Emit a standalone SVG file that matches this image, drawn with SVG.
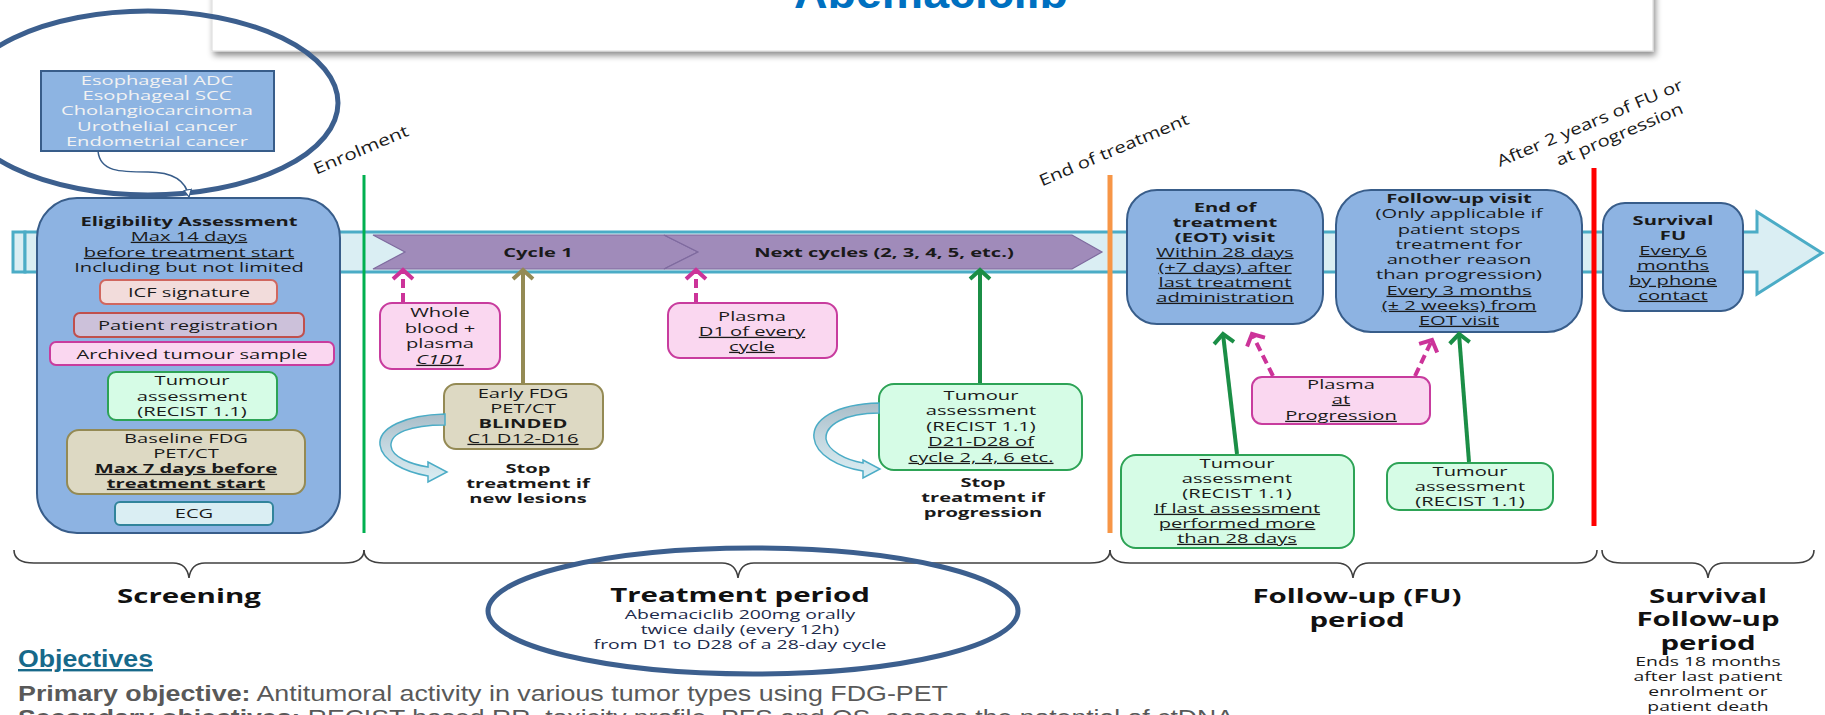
<svg xmlns="http://www.w3.org/2000/svg" width="1825" height="715" viewBox="0 0 1825 715">
<defs>
<style>
.t{font-family:"Open Sans","DejaVu Sans",sans-serif;font-size:13px;fill:#1a1a1a;text-anchor:middle}
.b{font-weight:bold}
.u{text-decoration:underline}
.i{font-style:italic}
.w{fill:#F2F2F2}
.lbl{font-size:19px;font-weight:bold;fill:#111}
.sm{font-size:12.5px}
.navy{fill:#1C2A4A}
.rot{font-family:"Open Sans","DejaVu Sans",sans-serif;font-size:16px;fill:#1a1a1a;text-anchor:middle}
.blue{fill:#8DB3E2;stroke:#385D8A;stroke-width:2}
.pink{fill:#FAD7F0;stroke:#C83C9E;stroke-width:2}
.mint{fill:#D6FCE6;stroke:#2DA356;stroke-width:2}
.tan{fill:#DDD9C3;stroke:#948A54;stroke-width:2}
.brace{fill:none;stroke:#404040;stroke-width:1.6}
.ring{fill:none;stroke:#3C5F8E;stroke-width:5}
.obj{font-family:"Liberation Sans",Arial,sans-serif;font-size:22px;fill:#595959}
.objh{font-family:"Liberation Sans",Arial,sans-serif;font-size:24px;font-weight:bold;fill:#17698A;text-decoration:underline}
.mag{stroke:#CC3399;stroke-width:4;stroke-dasharray:9 5;fill:none}
.grn{stroke:#1B8E46;stroke-width:4;fill:none}
.olv{stroke:#948A54;stroke-width:4;fill:none}
.curl{stroke:#4BACC6;stroke-width:1.5;fill:url(#curlFill)}
</style>
<linearGradient id="curlFill" x1="0" y1="0" x2="0" y2="1">
<stop offset="0" stop-color="#A9BDC8"/>
<stop offset="0.45" stop-color="#C3D6DF"/>
<stop offset="1" stop-color="#DAEEF3"/>
</linearGradient>
<filter id="shd" x="-5%" y="-50%" width="110%" height="220%">
<feDropShadow dx="2" dy="4" stdDeviation="3" flood-color="#000" flood-opacity="0.45"/>
</filter>
<marker id="hMag" viewBox="0 0 22 22" refX="20" refY="11" markerWidth="22" markerHeight="22" markerUnits="userSpaceOnUse" orient="auto" overflow="visible">
<path d="M11,1 L20,11 L11,21" fill="none" stroke="#CC3399" stroke-width="4" stroke-dasharray="none"/>
</marker>
<marker id="hGrn" viewBox="0 0 22 22" refX="20" refY="11" markerWidth="22" markerHeight="22" markerUnits="userSpaceOnUse" orient="auto" overflow="visible">
<path d="M11,1 L20,11 L11,21" fill="none" stroke="#1B8E46" stroke-width="4"/>
</marker>
<marker id="hOlv" viewBox="0 0 22 22" refX="20" refY="11" markerWidth="22" markerHeight="22" markerUnits="userSpaceOnUse" orient="auto" overflow="visible">
<path d="M11,1 L20,11 L11,21" fill="none" stroke="#948A54" stroke-width="4"/>
</marker>
<marker id="hSm" viewBox="0 0 10 10" refX="9" refY="5" markerWidth="9" markerHeight="9" markerUnits="userSpaceOnUse" orient="auto">
<path d="M1,1 L9,5 L1,9 Z" fill="#ffffff" stroke="#385D8A" stroke-width="1.3"/>
</marker>
</defs>

<rect width="1825" height="715" fill="#ffffff"/>

<!-- title banner -->
<g id="title">
<rect x="212" y="-20" width="1441" height="71" fill="#ffffff" stroke="#D9D9D9" stroke-width="1" filter="url(#shd)"/>
<text x="931" y="8" font-family="'Liberation Sans',Arial,sans-serif" font-size="44" font-weight="bold" fill="#0070C0" text-anchor="middle" textLength="274" lengthAdjust="spacingAndGlyphs">Abemaciclib</text>
</g>

<!-- timeline band -->
<g id="timeline">
<rect x="13" y="232" width="12" height="40" fill="#DAEEF3" stroke="#4BACC6" stroke-width="3"/>
<path d="M25,232 H1757 V212 L1822,253 L1757,294 V272 H25 Z" fill="#DAEEF3" stroke="#4BACC6" stroke-width="3"/>
</g>

<!-- treatment cycles -->
<g id="cycle1">
<polygon points="373,235 664,235 698,252 664,269 373,269 405,252" fill="#A08BBA" stroke="#7E6A9E" stroke-width="1.2"/>
<g transform="matrix(1.55 0 0 1 -295.9 0)"><text class="t b" x="538" y="257" font-size="12">Cycle 1</text></g>
</g>
<g id="next-cycles">
<polygon points="664,235 1072,235 1102,252 1072,269 664,269 698,252" fill="#A08BBA" stroke="#7E6A9E" stroke-width="1.2"/>
<g transform="matrix(1.55 0 0 1 -486.2 0)"><text class="t b" x="884" y="257" font-size="12.5">Next cycles (2, 3, 4, 5, etc.)</text></g>
</g>

<!-- milestones -->
<g id="enrolment">
<line x1="364" y1="175" x2="364" y2="533" stroke="#00B050" stroke-width="3"/>
<g transform="translate(363,155) rotate(-23) scale(1.3 1)"><text class="rot" x="0" y="0" font-size="16.5">Enrolment</text></g>
</g>
<g id="end-of-treatment">
<line x1="1110" y1="175" x2="1110" y2="533" stroke="#F79646" stroke-width="5"/>
<g transform="translate(1116,155) rotate(-23) scale(1.27 1)"><text class="rot" x="0" y="0" font-size="16.5">End of treatment</text></g>
</g>
<g id="fu-end">
<line x1="1594" y1="168" x2="1594" y2="526" stroke="#FF0000" stroke-width="5"/>
<g transform="translate(1592,128) rotate(-23) scale(1.27 1)"><text class="rot" x="0" y="0" font-size="16.5">After 2 years of FU or</text><text class="rot" x="18" y="22" font-size="16.5">at progression</text></g>
</g>

<!-- tumour types -->
<g id="tumour-types">
<rect x="41" y="71" width="233" height="80" fill="#8DB4E2" stroke="#385D8A" stroke-width="2"/>
<g transform="matrix(1.55 0 0 1 -86.35 0)">
<text class="t w" x="157" y="85" font-size="12.5">Esophageal ADC</text>
<text class="t w" x="157" y="100" font-size="12.5">Esophageal SCC</text>
<text class="t w" x="157" y="115.5" font-size="12.5">Cholangiocarcinoma</text>
<text class="t w" x="157" y="131" font-size="12.5">Urothelial cancer</text>
<text class="t w" x="157" y="146" font-size="12.5">Endometrial cancer</text>
</g>
</g>
<ellipse id="tumour-types-ring" class="ring" cx="148" cy="103" rx="190" ry="92"/>

<!-- screening -->
<g id="eligibility">
<rect class="blue" x="37" y="198" width="303" height="335" rx="40"/>
<g transform="matrix(1.55 0 0 1 -103.95 0)">
<text class="t b" x="189" y="226">Eligibility Assessment</text>
<text class="t u" x="189" y="241">Max 14 days</text>
<text class="t u" x="189" y="257">before treatment start</text>
<text class="t" x="189" y="272">Including but not limited</text>
</g>
</g>
<g id="icf">
<rect x="100" y="280" width="177" height="24" rx="6" fill="#F2DCDB" stroke="#D0675F" stroke-width="2"/>
<g transform="matrix(1.55 0 0 1 -103.95 0)"><text class="t" x="189" y="297">ICF signature</text></g>
</g>
<g id="registration">
<rect x="74" y="313" width="230" height="24" rx="6" fill="#CCC1DA" stroke="#C0504D" stroke-width="2"/>
<g transform="matrix(1.55 0 0 1 -103.4 0)"><text class="t" x="188" y="330">Patient registration</text></g>
</g>
<g id="archived-sample">
<rect x="50" y="342" width="284" height="23" rx="6" fill="#FAD7F0" stroke="#C83C9E" stroke-width="2"/>
<g transform="matrix(1.55 0 0 1 -105.6 0)"><text class="t" x="192" y="359">Archived tumour sample</text></g>
</g>
<g id="baseline-recist">
<rect class="mint" x="108" y="372" width="169" height="48" rx="8"/>
<g transform="matrix(1.55 0 0 1 -105.6 0)">
<text class="t" x="192" y="385">Tumour</text>
<text class="t" x="192" y="401">assessment</text>
<text class="t" x="192" y="416">(RECIST 1.1)</text>
</g>
</g>
<g id="baseline-pet">
<rect class="tan" x="67" y="430" width="238" height="64" rx="12"/>
<g transform="matrix(1.55 0 0 1 -102.3 0)">
<text class="t" x="186" y="443">Baseline FDG</text>
<text class="t" x="186" y="458">PET/CT</text>
<text class="t b u" x="186" y="473">Max 7 days before</text>
<text class="t b u" x="186" y="488">treatment start</text>
</g>
</g>
<g id="ecg">
<rect x="115" y="502" width="158" height="23" rx="5" fill="#DAEEF3" stroke="#31849B" stroke-width="2"/>
<g transform="matrix(1.55 0 0 1 -106.7 0)"><text class="t" x="194" y="518">ECG</text></g>
</g>

<!-- treatment period -->
<g id="whole-blood">
<rect class="pink" x="380" y="303" width="120" height="66" rx="12"/>
<g transform="matrix(1.55 0 0 1 -242 0)">
<text class="t" x="440" y="317.5">Whole</text>
<text class="t" x="440" y="333">blood +</text>
<text class="t" x="440" y="348.5">plasma</text>
<text class="t i u" x="440" y="364">C1D1</text>
</g>
</g>
<g id="early-pet">
<rect class="tan" x="444" y="384" width="159" height="65" rx="12"/>
<g transform="matrix(1.55 0 0 1 -287.65 0)">
<text class="t" x="523" y="398">Early FDG</text>
<text class="t" x="523" y="413">PET/CT</text>
<text class="t b" x="523" y="428">BLINDED</text>
<text class="t u" x="523" y="443">C1 D12-D16</text>
</g>
</g>
<g id="stop-lesions">
<path class="curl" d="M445,414 C405,415 378,428 380,445 C382,461 405,472 428,476 L428,482 L447,472 L428,462 L428,467 C410,464 392,457 391,446 C390,433 410,425 445,425 Z"/>
<g transform="matrix(1.55 0 0 1 -290.4 0)">
<text class="t b" x="528" y="473">Stop</text>
<text class="t b" x="528" y="488">treatment if</text>
<text class="t b" x="528" y="503">new lesions</text>
</g>
</g>
<g id="plasma-cycle">
<rect class="pink" x="668" y="303" width="169" height="55" rx="12"/>
<g transform="matrix(1.55 0 0 1 -413.6 0)">
<text class="t" x="752" y="321">Plasma</text>
<text class="t u" x="752" y="336">D1 of every</text>
<text class="t u" x="752" y="351">cycle</text>
</g>
</g>
<g id="recist-cycles">
<rect class="mint" x="879" y="384" width="203" height="86" rx="15"/>
<g transform="matrix(1.55 0 0 1 -539.55 0)">
<text class="t" x="981" y="400">Tumour</text>
<text class="t" x="981" y="415">assessment</text>
<text class="t" x="981" y="431">(RECIST 1.1)</text>
<text class="t u" x="981" y="446">D21-D28 of</text>
<text class="t u" x="981" y="462">cycle 2, 4, 6 etc.</text>
</g>
</g>
<g id="stop-progression">
<path class="curl" d="M879,403 C835,404 812,420 814,438 C816,455 838,467 863,471 L863,478 L880,469 L863,460 L863,463 C846,460 828,451 826,439 C825,425 845,413 879,413 Z"/>
<g transform="matrix(1.55 0 0 1 -540.65 0)">
<text class="t b" x="983" y="487">Stop</text>
<text class="t b" x="983" y="502">treatment if</text>
<text class="t b" x="983" y="517">progression</text>
</g>
</g>

<!-- follow-up -->
<g id="eot-visit">
<rect class="blue" x="1127" y="190" width="196" height="134" rx="30"/>
<g transform="matrix(1.55 0 0 1 -673.75 0)">
<text class="t b" x="1225" y="212">End of</text>
<text class="t b" x="1225" y="227">treatment</text>
<text class="t b" x="1225" y="242">(EOT) visit</text>
<text class="t u" x="1225" y="257">Within 28 days</text>
<text class="t u" x="1225" y="272">(+7 days) after</text>
<text class="t u" x="1225" y="287">last treatment</text>
<text class="t u" x="1225" y="302">administration</text>
</g>
</g>
<g id="fu-visit">
<rect class="blue" x="1336" y="190" width="246" height="142" rx="35"/>
<g transform="matrix(1.55 0 0 1 -802.45 0)">
<text class="t b" x="1459" y="203">Follow-up visit</text>
<text class="t" x="1459" y="218">(Only applicable if</text>
<text class="t" x="1459" y="234">patient stops</text>
<text class="t" x="1459" y="249">treatment for</text>
<text class="t" x="1459" y="264">another reason</text>
<text class="t" x="1459" y="279">than progression)</text>
<text class="t u" x="1459" y="295">Every 3 months</text>
<text class="t u" x="1459" y="310">(± 2 weeks) from</text>
<text class="t u" x="1459" y="325">EOT visit</text>
</g>
</g>
<g id="survival-fu">
<rect class="blue" x="1603" y="203" width="140" height="108" rx="22"/>
<g transform="matrix(1.55 0 0 1 -920.15 0)">
<text class="t b" x="1673" y="225">Survival</text>
<text class="t b" x="1673" y="240">FU</text>
<text class="t u" x="1673" y="255">Every 6</text>
<text class="t u" x="1673" y="270">months</text>
<text class="t u" x="1673" y="285">by phone</text>
<text class="t u" x="1673" y="300">contact</text>
</g>
</g>
<g id="plasma-progression">
<rect class="pink" x="1252" y="377" width="178" height="47" rx="10"/>
<g transform="matrix(1.55 0 0 1 -737.55 0)">
<text class="t" x="1341" y="389">Plasma</text>
<text class="t u" x="1341" y="404">at</text>
<text class="t u" x="1341" y="420">Progression</text>
</g>
</g>
<g id="recist-eot">
<rect class="mint" x="1121" y="455" width="233" height="93" rx="15"/>
<g transform="matrix(1.55 0 0 1 -680.35 0)">
<text class="t" x="1237" y="468">Tumour</text>
<text class="t" x="1237" y="483">assessment</text>
<text class="t" x="1237" y="498">(RECIST 1.1)</text>
<text class="t u" x="1237" y="513">If last assessment</text>
<text class="t u" x="1237" y="528">performed more</text>
<text class="t u" x="1237" y="543">than 28 days</text>
</g>
</g>
<g id="recist-fu">
<rect class="mint" x="1387" y="463" width="166" height="47" rx="12"/>
<g transform="matrix(1.55 0 0 1 -808.5 0)">
<text class="t" x="1470" y="476">Tumour</text>
<text class="t" x="1470" y="491">assessment</text>
<text class="t" x="1470" y="506">(RECIST 1.1)</text>
</g>
</g>

<!-- connectors -->
<g id="connectors">
<path d="M98,151 C100,172 120,172 148,172 C172,172 186,180 189,197" fill="none" stroke="#385D8A" stroke-width="1.5" marker-end="url(#hSm)"/>
<line class="mag" x1="403" y1="302" x2="403" y2="270" marker-end="url(#hMag)"/>
<line class="mag" x1="696" y1="302" x2="696" y2="270" marker-end="url(#hMag)"/>
<line class="olv" x1="523" y1="383" x2="523" y2="270" marker-end="url(#hOlv)"/>
<line class="grn" x1="980" y1="383" x2="980" y2="270" marker-end="url(#hGrn)"/>
<line class="grn" x1="1237" y1="454" x2="1223" y2="334" marker-end="url(#hGrn)"/>
<line class="grn" x1="1469" y1="462" x2="1459" y2="334" marker-end="url(#hGrn)"/>
<line class="mag" x1="1273" y1="376" x2="1252" y2="334" marker-end="url(#hMag)"/>
<line class="mag" x1="1415" y1="376" x2="1432" y2="340" marker-end="url(#hMag)"/>
</g>

<!-- period braces -->
<g id="braces">
<path class="brace" d="M14,550 Q14,563 34,563 L173,563 Q187,563 189,578 Q191,563 205,563 L344,563 Q364,563 364,550"/>
<path class="brace" d="M364,550 Q364,563 384,563 L722,563 Q736,563 738,578 Q740,563 754,563 L1090,563 Q1110,563 1110,550"/>
<path class="brace" d="M1110,550 Q1110,563 1130,563 L1337,563 Q1351,563 1353,578 Q1355,563 1369,563 L1577,563 Q1597,563 1597,550"/>
<path class="brace" d="M1602,550 Q1602,563 1622,563 L1692,563 Q1706,563 1708,578 Q1710,563 1724,563 L1794,563 Q1814,563 1814,550"/>
</g>

<g id="screening-label" transform="matrix(1.55 0 0 1 -103.95 0)">
<text class="t lbl" x="189" y="603">Screening</text>
</g>
<g id="treatment-label" transform="matrix(1.55 0 0 1 -407 0)">
<text class="t lbl" x="740" y="602">Treatment period</text>
<text class="t sm navy" x="740" y="619">Abemaciclib 200mg orally</text>
<text class="t sm navy" x="740" y="634">twice daily (every 12h)</text>
<text class="t sm navy" x="740" y="649">from D1 to D28 of a 28-day cycle</text>
</g>
<ellipse id="treatment-ring" class="ring" cx="753" cy="611" rx="265" ry="63"/>
<g id="fu-label" transform="matrix(1.55 0 0 1 -746.35 0)">
<text class="t lbl" x="1357" y="603">Follow-up (FU)</text>
<text class="t lbl" x="1357" y="627">period</text>
</g>
<g id="survival-label" transform="matrix(1.55 0 0 1 -939.4 0)">
<text class="t lbl" x="1708" y="603">Survival</text>
<text class="t lbl" x="1708" y="626">Follow-up</text>
<text class="t lbl" x="1708" y="650">period</text>
<text class="t sm" x="1708" y="666">Ends 18 months</text>
<text class="t sm" x="1708" y="681">after last patient</text>
<text class="t sm" x="1708" y="696">enrolment or</text>
<text class="t sm" x="1708" y="711">patient death</text>
</g>

<!-- objectives -->
<g id="objectives">
<text class="objh" x="18" y="667" textLength="135" lengthAdjust="spacingAndGlyphs">Objectives</text>
<text class="obj" x="18" y="701" textLength="930" lengthAdjust="spacingAndGlyphs"><tspan font-weight="bold">Primary objective:</tspan> Antitumoral activity in various tumor types using FDG-PET</text>
<text class="obj" x="18" y="725" textLength="1216" lengthAdjust="spacingAndGlyphs"><tspan font-weight="bold">Secondary objectives:</tspan> RECIST based RR, toxicity profile, PFS and OS, assess the potential of ctDNA</text>
</g>
</svg>
